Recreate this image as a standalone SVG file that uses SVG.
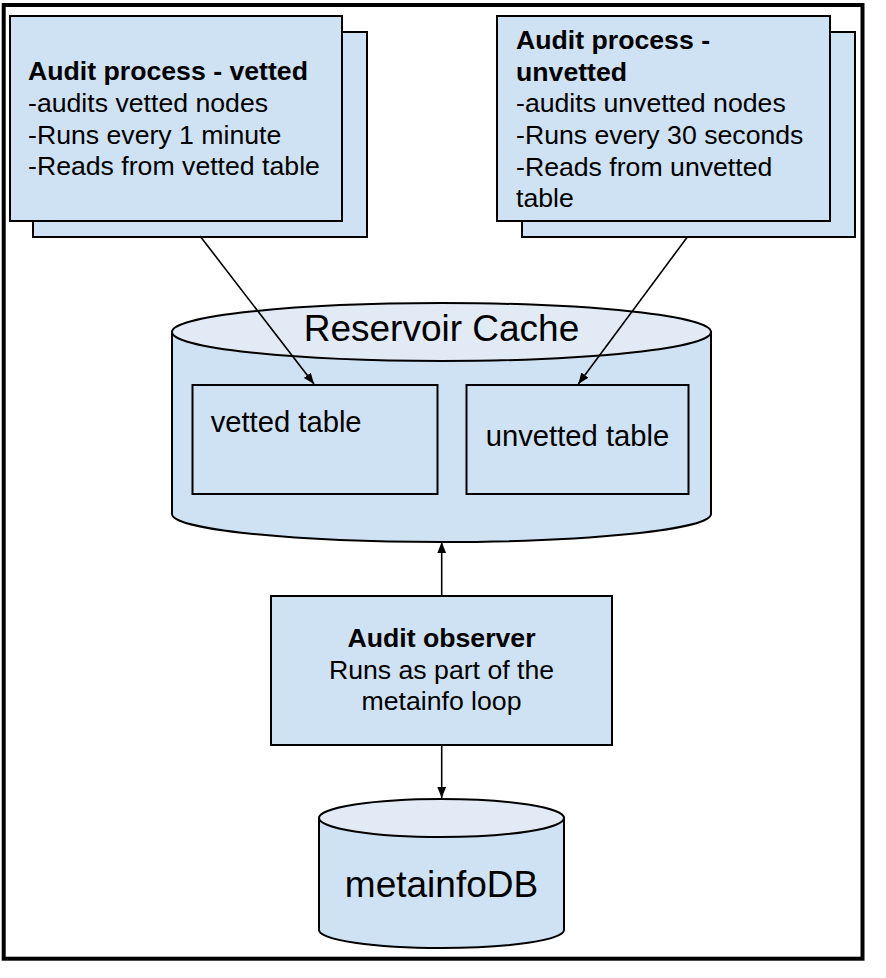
<svg xmlns="http://www.w3.org/2000/svg" width="886" height="978" viewBox="0 0 886 978">
<defs>
<style>
.box{fill:#cfe2f3;stroke:#000;stroke-width:2}
.top{fill:#e1eaf5;stroke:#000;stroke-width:2}
.t{font-family:"Liberation Sans",Arial,sans-serif;font-size:26.67px;fill:#000}
.b{font-weight:bold}
.big{font-family:"Liberation Sans",Arial,sans-serif;font-size:37px;fill:#000}
.mid{font-family:"Liberation Sans",Arial,sans-serif;font-size:29.2px;fill:#000}
.c{stroke:#000;stroke-width:1.6;fill:none;marker-end:url(#ah)}
</style>
<marker id="ah" viewBox="0 0 10 8" refX="10" refY="4" markerWidth="11" markerHeight="8.8" markerUnits="userSpaceOnUse" orient="auto">
<path d="M0,0 L10,4 L0,8 Z" fill="#000"/>
</marker>
</defs>
<rect x="0" y="0" width="886" height="978" fill="#fff"/>
<rect id="frame" x="3.7" y="5" width="858.8" height="953.7" fill="none" stroke="#000" stroke-width="4"/>

<g id="audit-vetted">
<rect class="box" x="33" y="32" width="334" height="205"/>
<rect class="box" x="10" y="16" width="332" height="205"/>
<text class="t b" x="28" y="80">Audit process - vetted</text>
<text class="t" x="28" y="112">-audits vetted nodes</text>
<text class="t" x="28" y="143.5">-Runs every 1 minute</text>
<text class="t" x="28" y="175">-Reads from vetted table</text>
</g>

<g id="audit-unvetted">
<rect class="box" x="522" y="32" width="333" height="205"/>
<rect class="box" x="497" y="16" width="333" height="205"/>
<text class="t b" x="516" y="49">Audit process -</text>
<text class="t b" x="516" y="80.5">unvetted</text>
<text class="t" x="516" y="112">-audits unvetted nodes</text>
<text class="t" x="516" y="143.5">-Runs every 30 seconds</text>
<text class="t" x="516" y="175.5">-Reads from unvetted</text>
<text class="t" x="516" y="207">table</text>
</g>

<g id="reservoir-cache">
<path class="box" d="M172,332 V514 A269.5,28 0 0 0 711,514 V332 Z"/>
<ellipse class="top" cx="441.5" cy="332" rx="269.5" ry="29"/>
<text class="big" x="441.5" y="341" text-anchor="middle">Reservoir Cache</text>
<g id="vetted-table">
<rect class="box" x="192.5" y="385" width="245" height="109"/>
<text class="mid" x="210.7" y="431.7">vetted table</text>
</g>
<g id="unvetted-table">
<rect class="box" x="466.5" y="385" width="222" height="109"/>
<text class="mid" x="577.5" y="446" text-anchor="middle">unvetted table</text>
</g>
</g>

<g id="audit-observer">
<rect class="box" x="271" y="596" width="341" height="149"/>
<text class="t b" x="441.5" y="647" text-anchor="middle">Audit observer</text>
<text class="t" x="441.5" y="678.5" text-anchor="middle">Runs as part of the</text>
<text class="t" x="441.5" y="710" text-anchor="middle">metainfo loop</text>
</g>

<g id="metainfodb">
<path class="box" d="M319,818 V930 A122.5,18 0 0 0 564,930 V818 Z"/>
<ellipse class="top" cx="441.5" cy="818" rx="122.5" ry="19"/>
<text class="big" x="441.5" y="897" text-anchor="middle">metainfoDB</text>
</g>

<g id="connectors">
<line class="c" x1="200" y1="236" x2="314" y2="384"/>
<line class="c" x1="687.7" y1="236.5" x2="578.3" y2="384"/>
<line class="c" x1="441.7" y1="596" x2="441.7" y2="542"/>
<line class="c" x1="441.7" y1="745" x2="441.7" y2="798"/>
</g>
</svg>
